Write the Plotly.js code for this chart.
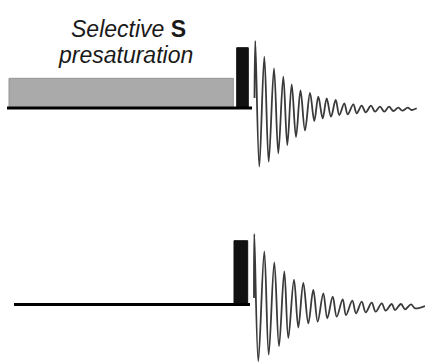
<!DOCTYPE html>
<html>
<head>
<meta charset="utf-8">
<script src="https://cdn.plot.ly/plotly-3.0.1.min.js"></script>
<style>html,body{margin:0;padding:0;background:#fff;}#chart{width:425px;height:364px;}</style>
</head>
<body>
<div id="chart"></div>
<script>
// ---- Top panel (with selective S presaturation) ----
var topLineStart = 7, topLineEnd = 252;
var presatStart = 9, presatEnd = 233.3, presatHeight = 29.7;
var topPulseStart = 236.7, topPulseEnd = 248.3, topPulseHeight = 60.3;
var topFidT = [254.5, 255.3, 259.3, 264.3, 268.7, 274, 278.3, 283.3, 287.3, 291.7, 296, 300.5, 305, 310, 314.3, 318.3, 322.7, 326.7, 331, 335.7, 339.3, 344.3, 347.7, 353.3, 356.7, 361.7, 365.7, 371, 375, 380, 384.3, 389, 393.3, 398.3, 402.3, 407.7, 411.7, 416.7];
var topFidA = [10, 67, -58.7, 51.3, -53.7, 39.7, -45.3, 31.3, -37, 23.7, -29, 17.5, -22.5, 15, -13, 11.3, -10.3, 9.7, -8.7, 8, -7, 4.7, -6.3, 3.7, -5.3, 2.3, -4.3, 2.3, -3.7, 1.3, -3.7, 1.3, -3, 0.3, -2.7, 0.3, -2, -0.3];

// ---- Bottom panel (reference, no presaturation) ----
var botLineStart = 14, botLineEnd = 250;
var botPulseStart = 234, botPulseEnd = 247.7, botPulseHeight = 63.8;
var botFidT = [254, 254.3, 258.3, 264.3, 268.7, 274.3, 279, 284.3, 288.3, 294, 298.3, 303.3, 308.3, 313.3, 317.7, 323.3, 327.3, 332.7, 336.7, 342.7, 346, 352.3, 356, 361.7, 365.7, 371.7, 375.7, 381.7, 385.7, 391.7, 395, 401, 405, 411, 415, 425];
var botFidA = [6.5, 70.5, -56.8, 53.2, -50.2, 42.2, -41.8, 33.2, -33.5, 24.8, -23, 21.5, -18.8, 14.5, -17.2, 11.2, -13.8, 7.8, -12.2, 5.2, -10.5, 3.8, -8.8, 2.8, -7.8, 1.8, -7.2, 1.2, -6.2, 0.5, -5.5, 0.5, -4.8, 0.2, -3.8, -1.5];

var titleLine1 = "<i>Selective</i> <b>S</b>";
var titleLine2 = "<i>presaturation</i>";

function pulseBar(s, e, h, color, lineColor, yaxis) {
  return {type: 'bar', x: [(s + e) / 2], width: [e - s], y: [h], base: [0],
    marker: {color: color, line: {color: lineColor, width: 1}}, yaxis: yaxis,
    hoverinfo: 'skip', showlegend: false};
}
function baseLine(s, e, yaxis) {
  return {type: 'scatter', mode: 'lines', x: [s, e], y: [0, 0], yaxis: yaxis,
    line: {color: '#000', width: 3}, hoverinfo: 'skip', showlegend: false};
}
function fid(t, a, yaxis) {
  return {type: 'scatter', mode: 'lines', x: t, y: a, yaxis: yaxis,
    line: {color: '#3a3a3a', width: 1.8, shape: 'spline', smoothing: 1},
    hoverinfo: 'skip', showlegend: false};
}

var data = [
  pulseBar(presatStart, presatEnd, presatHeight, '#aaaaaa', '#949494', 'y'),
  pulseBar(topPulseStart, topPulseEnd, topPulseHeight, '#111111', '#111111', 'y'),
  baseLine(topLineStart, topLineEnd, 'y'),
  fid(topFidT, topFidA, 'y'),
  pulseBar(botPulseStart, botPulseEnd, botPulseHeight, '#111111', '#111111', 'y2'),
  baseLine(botLineStart, botLineEnd, 'y2'),
  fid(botFidT, botFidA, 'y2')
];

var hidden = {visible: false, showgrid: false, zeroline: false, fixedrange: true};
var layout = {
  width: 425, height: 364,
  margin: {l: 0, r: 0, t: 0, b: 0},
  paper_bgcolor: '#ffffff', plot_bgcolor: '#ffffff',
  barmode: 'overlay', bargap: 0,
  showlegend: false,
  xaxis: Object.assign({range: [0, 425]}, hidden),
  yaxis: Object.assign({domain: [0.5, 1], range: [-74, 108]}, hidden),
  yaxis2: Object.assign({domain: [0, 0.5], range: [-59.5, 122.5]}, hidden),
  annotations: [
    {xref: 'paper', yref: 'paper', x: 128.5 / 425, y: 1 - 29 / 364, xanchor: 'center', yanchor: 'middle',
     text: titleLine1, showarrow: false,
     font: {family: 'Liberation Sans, Arial, sans-serif', size: 23, color: '#1a1a1a'}},
    {xref: 'paper', yref: 'paper', x: 125 / 425, y: 1 - 54.5 / 364, xanchor: 'center', yanchor: 'middle',
     text: titleLine2, showarrow: false,
     font: {family: 'Liberation Sans, Arial, sans-serif', size: 23, color: '#1a1a1a'}}
  ]
};

Plotly.newPlot('chart', data, layout, {staticPlot: true, displayModeBar: false});
</script>
</body>
</html>
